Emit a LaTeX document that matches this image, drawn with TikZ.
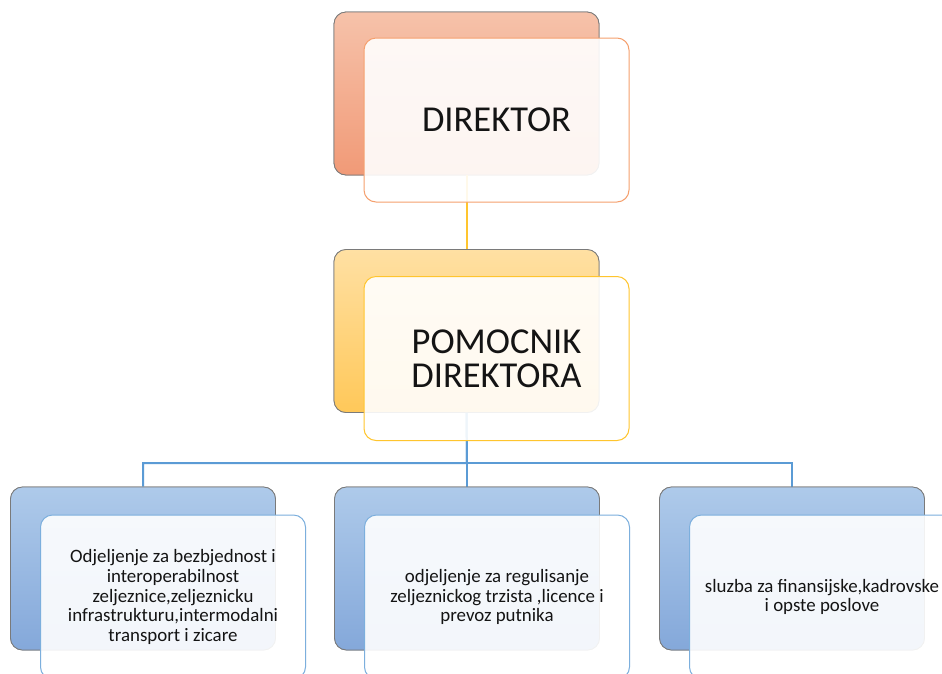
\documentclass[tikz,border=0pt]{standalone}
\usepackage{fontspec}
\setmainfont{Carlito}
\definecolor{orTop}{HTML}{F6C2AA}
\definecolor{orBot}{HTML}{F19A77}
\definecolor{orLine}{HTML}{F5A06E}
\definecolor{yeTop}{HTML}{FFE0A3}
\definecolor{yeBot}{HTML}{FFC859}
\definecolor{yeLine}{HTML}{FFC52E}
\definecolor{blTop}{HTML}{AECAEA}
\definecolor{blBot}{HTML}{84A8DA}
\definecolor{blLine}{HTML}{5B9BD5}
\definecolor{backEdge}{HTML}{7A7A7A}
\definecolor{txt}{HTML}{141414}
\tikzset{
  backbox/.style={rectangle, rounded corners=12pt, draw=backEdge, line width=0.8pt,
    minimum width=265pt, minimum height=163pt, inner sep=0pt},
  frontbox/.style={rectangle, rounded corners=12pt, line width=1pt,
    minimum width=265pt, minimum height=164pt, inner sep=0pt,
    fill=white, fill opacity=0.9, text opacity=1, text=txt, align=center},
  bigtext/.style={font=\fontsize{36.5}{34}\selectfont},
  smalltext/.style={font=\fontsize{18.9}{19.8}\selectfont},
  conn/.style={line width=2pt}
}
\begin{document}
\begin{tikzpicture}[x=1pt,y=-1pt]
\useasboundingbox (0,0) rectangle (942,673);
\clip (0,0) rectangle (942,673);
\fill[white] (0,0) rectangle (942,673);
% back boxes (positions)
\node[backbox, top color=orTop, bottom color=orBot] (d0) at (466.5,93.5) {};
\node[backbox, top color=yeTop, bottom color=yeBot] (p0) at (466.5,331) {};
\node[backbox, top color=blTop, bottom color=blBot] (a0) at (143,568.5) {};
\node[backbox, top color=blTop, bottom color=blBot] (b0) at (467,568.5) {};
\node[backbox, top color=blTop, bottom color=blBot] (c0) at (792,568.5) {};
% connectors
\coordinate (bus) at (467,463);
\draw[conn, yeLine] (d0.south) -- (p0.north);
\draw[conn, blLine] (p0.south) -- (bus) -| (a0.north);
\draw[conn, blLine] (bus) -- (b0.north);
\draw[conn, blLine] (bus) -| (c0.north);
% redraw back boxes over connectors
\node[backbox, top color=orTop, bottom color=orBot] at (d0) {};
\node[backbox, top color=yeTop, bottom color=yeBot] at (p0) {};
\node[backbox, top color=blTop, bottom color=blBot] at (a0) {};
\node[backbox, top color=blTop, bottom color=blBot] at (b0) {};
\node[backbox, top color=blTop, bottom color=blBot] at (c0) {};
% connector segments visible through front boxes
\draw[conn, yeLine] (d0.south) -- (p0.north);
\draw[conn, blLine] (p0.south) -- (bus);
% front boxes
\node[frontbox, draw=orLine, bigtext] (d1) at (496.5,120) {DIREKTOR};
\node[frontbox, draw=yeLine, bigtext] (p1) at (496.5,358.5) {POMOCNIK\\DIREKTORA};
\node[frontbox, draw=blLine!80, smalltext] (a1) at (173,597)
  {Odjeljenje za bezbjednost i\\interoperabilnost\\zeljeznice,zeljeznicku\\infrastrukturu,intermodalni\\transport i zicare};
\node[frontbox, draw=blLine!80, smalltext] (b1) at (497,597)
  {odjeljenje za regulisanje\\zeljeznickog trzista ,licence i\\prevoz putnika};
\node[frontbox, draw=blLine!80, smalltext] (c1) at (822,597)
  {sluzba za finansijske,kadrovske\\i opste poslove};
\end{tikzpicture}
\end{document}
